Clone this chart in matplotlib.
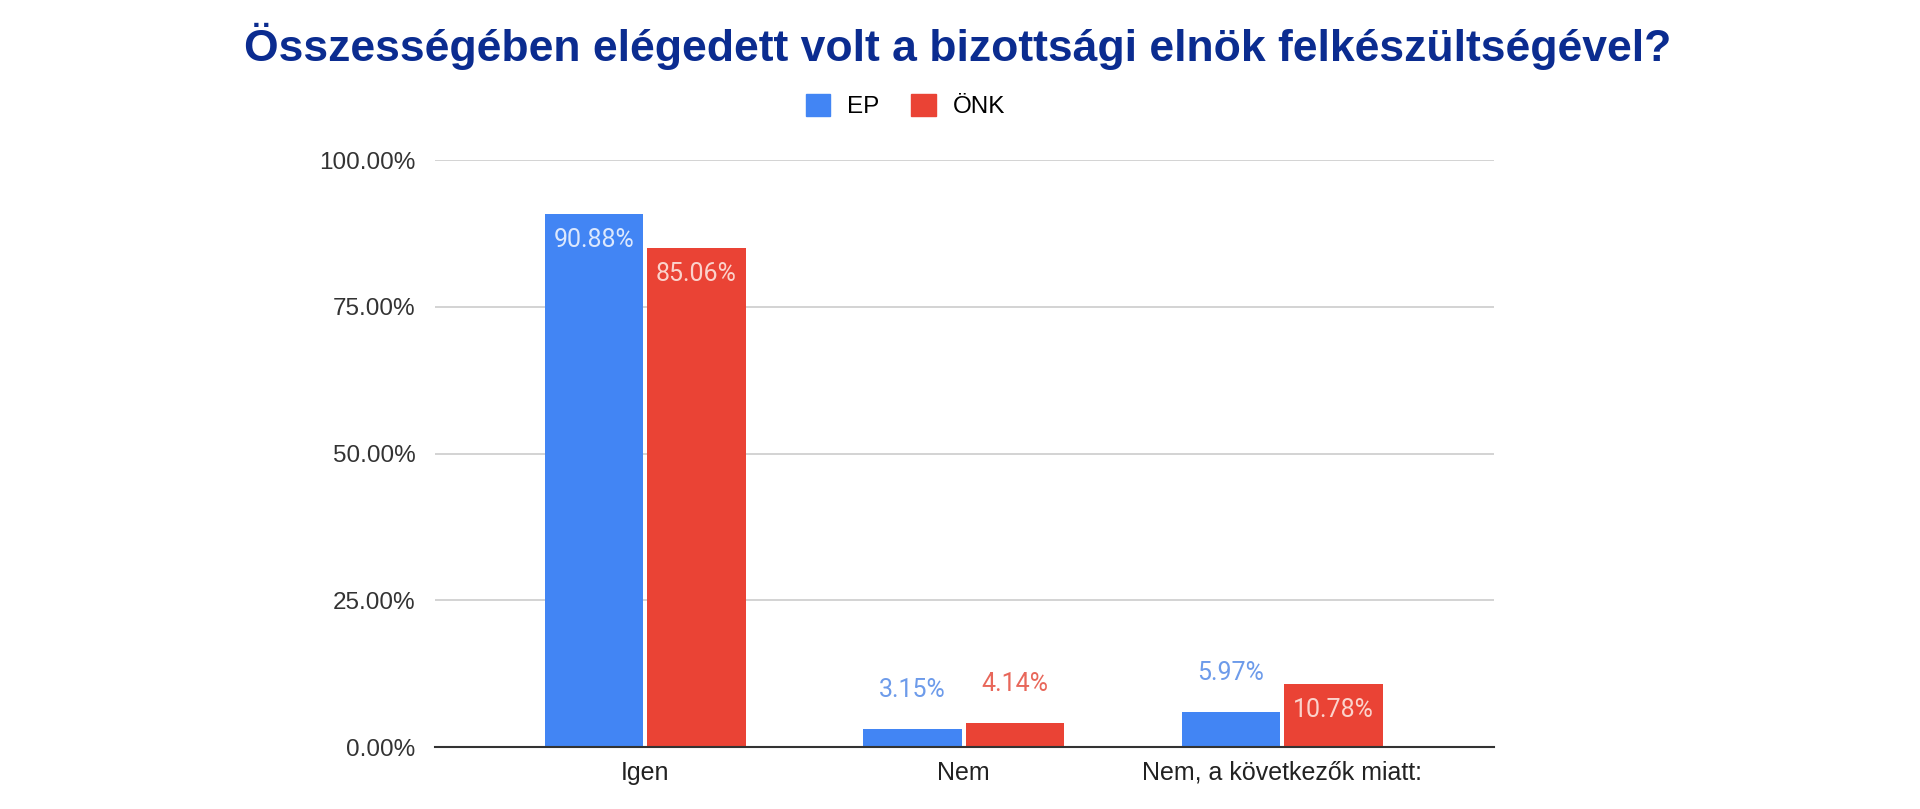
import numpy as np
import matplotlib.pyplot as plt
from matplotlib.patches import Patch

plt.rcParams['font.family'] = ['Liberation Sans', 'DejaVu Sans']

categories = ['Igen', 'Nem', 'Nem, a következők miatt:']
ep = [90.88, 3.15, 5.97]
onk = [85.06, 4.14, 10.78]
series_names = ['EP', 'ÖNK']
yticks = [0, 25, 50, 75, 100]

blue = '#4285F4'
red = '#EA4335'

fig = plt.figure(figsize=(19.2, 8.09), dpi=100)
ax = fig.add_axes([0.2266, 0.0766, 0.5515, 0.7254])

x = np.arange(len(categories))
w = 0.31
gap = 0.006
b1 = ax.bar(x - w/2 - gap, ep, w, color=blue, zorder=3)
b2 = ax.bar(x + w/2 + gap, onk, w, color=red, zorder=3)

def label(bars, vals, col, light):
    for b, v in zip(bars, vals):
        cx = b.get_x() + b.get_width()/2
        txt = '%.2f%%' % v
        if v > 8:
            ax.text(cx, v - 2.4, txt, ha='center', va='top', color=light,
                    fontsize=18, family=['Roboto', 'DejaVu Sans'], zorder=4)
        else:
            ax.text(cx, v + 4.6, txt, ha='center', va='bottom', color=col,
                    fontsize=18, family=['Roboto', 'DejaVu Sans'], zorder=4)

label(b1, ep, '#6d9bea', '#dce8fd')
label(b2, onk, '#e8675a', '#fbd3cc')

ax.set_xlim(-0.66, 2.665)
ax.set_ylim(0, 100)
ax.set_yticks(yticks)
ax.set_yticklabels(['%.2f%%' % t for t in yticks], fontsize=17.5, color='#333333')
ax.set_xticks(x)
ax.set_xticklabels(categories, fontsize=18, color='#222222')
ax.tick_params(length=0, pad=10)
ax.tick_params(axis='y', pad=14)
ax.grid(axis='y', color='#cccccc', linewidth=1.2, zorder=0)
for s in ['top', 'right', 'left']:
    ax.spines[s].set_visible(False)
ax.spines['bottom'].set_color('#333333')
ax.spines['bottom'].set_linewidth(1.5)
ax.spines['bottom'].set_zorder(5)

fig.text(0.499, 0.943, 'Összességében elégedett volt a bizottsági elnök felkészültségével?',
         ha='center', va='center', fontsize=32, fontweight='bold', color='#0b2c90')

handles = [Patch(color=blue), Patch(color=red)]
fig.legend(handles, series_names, loc='center', bbox_to_anchor=(0.4716, 0.869), ncol=2,
           frameon=False, fontsize=17.5, handlelength=1.0, handleheight=1.0,
           columnspacing=1.3, handletextpad=0.7)

fig.savefig('out.png', dpi=100)
